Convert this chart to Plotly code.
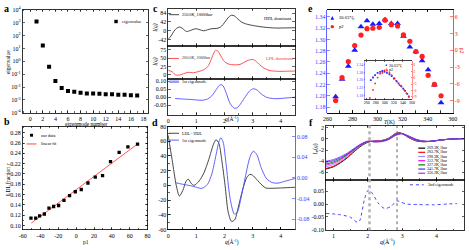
import plotly.graph_objects as go

W, H = 469, 250
SERIF = "Liberation Serif"


def px(x):
    return x / W


def py(y):
    return 1 - y / H


# ---------------- data ----------------
# panel a
eig_n = list(range(1, 18))
eig_val = [1250, 17, 0.38, 0.03, 0.0087, 0.0049, 0.0044, 0.0036, 0.0032, 0.0032,
           0.0030, 0.00275, 0.00275, 0.0025, 0.0025, 0.00234, 0.00224]
a_xticks = list(range(0, 19, 2))
a_yexp = list(range(-4, 5))

# panel b
b_p1 = [-50.7, -45.4, -41, -35.7, -30.5, -25.3, -19.7, -13.7, -7.4, -1, 5.7, 13.2,
        21.4, 29.6, 38.5, 48.2, 58, 68.8]
b_r = [0.1144, 0.1144, 0.119, 0.1225, 0.134, 0.137, 0.139, 0.149, 0.158, 0.1656,
       0.17, 0.1825, 0.194, 0.197, 0.224, 0.242, 0.2525, 0.258]
b_fit_x = [-50.3, 68.8]
b_fit_y = [0.105, 0.258]
b_xticks = [-60, -40, -20, 0, 20, 40, 60, 80]
b_yticks = [0.10, 0.12, 0.14, 0.16, 0.18, 0.20, 0.22, 0.24, 0.26, 0.28]

# panel c (top: 250K 10000bar, mid: 200K 2000bar)
c_q1 = [0, 0.1, 0.2, 0.3, 0.4, 0.5, 0.65, 0.8, 0.97, 1.1, 1.26, 1.4, 1.55, 1.7, 1.84,
        1.95, 2.07, 2.17, 2.25, 2.36, 2.48, 2.6, 2.75, 2.9, 3.1, 3.3, 3.5, 3.7, 3.9,
        4.1, 4.3, 4.5]
c_v1 = [-40, -25, -3, 12, 18, 12, -3, 2, 10, 6, 0, 5, 10, 11, 16, 30, 52, 68, 74,
        70, 55, 42, 33, 28, 23, 19, 16, 14, 13, 13.5, 14, 15]
c_q2 = [0, 0.15, 0.27, 0.4, 0.55, 0.7, 0.9, 1.1, 1.26, 1.4, 1.5, 1.6, 1.68, 1.76,
        1.85, 1.95, 2.05, 2.2, 2.4, 2.55, 2.7, 2.85, 3.0, 3.1, 3.25, 3.4, 3.58, 3.75,
        3.95, 4.2, 4.5]
c_v2 = [14, 8, -1, -1, 3, 7, 6, 10, 15, 24, 40, 62, 74, 72, 60, 45, 36, 31, 30, 31,
        38, 44, 46, 42, 30, 20, 13, 11, 10, 10.5, 11]
# 1st eigenmode (c bottom and d)
e1_q = [0.25, 0.5, 0.8, 1.0, 1.2, 1.4, 1.55, 1.7, 1.8, 1.87, 1.95, 2.05, 2.2, 2.35,
        2.45, 2.6, 2.75, 2.9, 3.02, 3.15, 3.3, 3.5, 3.7, 3.9, 4.1, 4.3, 4.5]
e1_v = [-0.009, -0.012, -0.015, -0.018, -0.02, -0.012, 0.008, 0.045, 0.07, 0.078,
        0.07, 0.03, -0.04, -0.07, -0.067, -0.035, 0.005, 0.04, 0.052, 0.045, 0.02,
        -0.002, -0.009, -0.01, -0.007, -0.004, -0.001]
# LDL - HDL (d)
d_q = [0, 0.14, 0.29, 0.4, 0.52, 0.63, 0.71, 0.83, 0.92, 1.1, 1.27, 1.44, 1.61, 1.7,
       1.8, 1.9, 2.02, 2.13, 2.25, 2.36, 2.48, 2.65, 2.79, 2.9, 3.0, 3.13, 3.34, 3.46,
       3.57, 4.03, 4.5]
d_v = [68, 35, -0.5, -14.5, -7, 5, 8.5, 2, 0, 6, 17, 35, 56, 62, 57, 35, 0, -36, -49,
       -47, -31, -5, 10.6, 15, 13.7, 8.4, 0, -3.5, -4, -3.5, -2.6]

# panel e
e_T = [266.6, 271.7, 276.7, 281.8, 286.8, 291.6, 296.3, 301.4, 306, 311, 316, 320.7,
       325.8, 330.6, 335.6, 340.4, 345.4, 350.7]
e_blue = [1.198, 1.2295, 1.2525, 1.281, 1.3227, 1.333, 1.327, 1.3285, 1.335, 1.3285,
          1.3285, 1.3055, 1.2865, 1.278, 1.262, 1.246, 1.219, 1.1875]
e_red = [-9.0, -4.87, -2.0, 0.88, 2.74, 3.9, 3.97, 4.14, 5.42, 4.6, 4.37, 2.8, 1.64,
         -0.22, -1.09, -4.47, -6.1, -8.13]
e_xticks = [260, 280, 300, 320, 340, 360]
e_lticks = [1.18, 1.20, 1.22, 1.24, 1.26, 1.28, 1.30, 1.32, 1.34]
e_rticks = [-9, -6, -3, 0, 3, 6]
# inset of e
in_T_b = [269, 273.8, 278.6, 284.1, 289.7, 294.5, 299.3, 304.8, 310.3, 315.2, 320,
          325.5, 330.3, 335.9, 340.7, 344.8, 349.7, 353.1]
in_blue = [1.258, 1.272, 1.284, 1.296, 1.301, 1.306, 1.302, 1.297, 1.289, 1.279, 1.267,
           1.255, 1.241, 1.228, 1.214, 1.202, 1.187, 1.174]
in_T_r = [266.9, 273.8, 278.6, 284.1, 289.7, 294.5, 299.3, 304.8, 310.3, 315.2, 322.1,
          326.9, 332.4, 337.2, 342.8, 347.6, 353.1]
in_red = [-9.54, -5.73, -2.68, 0.07, 1.9, 2.2, 3.42, 3.42, 2.2, 1.14, -0.39, -1.91,
          -3.44, -4.2, -5.73, -7.25, -9.08]

# panel f
f_q = [0.78, 1.0, 1.2, 1.4, 1.6, 1.8, 2.0, 2.2, 2.4, 2.6, 2.8, 2.9, 3.0, 3.2, 3.4,
       3.6, 3.8, 4.0, 4.2, 4.5, 4.8]
f_labels = ["269.3K,1bar", "283.7K,1bar", "298.3K,1bar", "312.7K,1bar",
            "327.2K,1bar", "341.7K,1bar", "356.2K,1bar"]
f_curves = [
    [-5.4, -5.0, -4.3, -3.4, -2.3, -1.3, -0.6, -0.35, -0.3, 0.1, 0.95, 1.1, 0.95, 0.2, -0.35, -0.5, -0.45, -0.3, -0.15, 0.0, 0.05],
    [-5.3, -4.9, -4.2, -3.3, -2.2, -1.2, -0.55, -0.4, -0.3, 0.05, 0.9, 1.05, 0.95, 0.25, -0.3, -0.5, -0.45, -0.3, -0.15, 0.0, 0.05],
    [-5.0, -4.6, -4.0, -3.1, -2.1, -1.15, -0.5, -0.4, -0.3, 0.05, 0.85, 1.0, 0.95, 0.3, -0.25, -0.45, -0.45, -0.3, -0.15, 0.0, 0.05],
    [-4.7, -4.35, -3.75, -2.9, -1.95, -1.05, -0.45, -0.45, -0.35, 0.0, 0.8, 0.95, 0.95, 0.35, -0.2, -0.45, -0.45, -0.3, -0.15, 0.0, 0.05],
    [-4.5, -4.15, -3.6, -2.8, -1.9, -1.0, -0.45, -0.5, -0.4, -0.05, 0.7, 0.9, 0.95, 0.4, -0.15, -0.4, -0.45, -0.3, -0.15, 0.0, 0.05],
    [-4.2, -3.9, -3.4, -2.7, -1.8, -0.95, -0.45, -0.5, -0.45, -0.1, 0.65, 0.85, 0.95, 0.45, -0.1, -0.4, -0.45, -0.3, -0.15, 0.0, 0.05],
    [-4.0, -3.7, -3.2, -2.55, -1.7, -0.9, -0.4, -0.55, -0.5, -0.15, 0.6, 0.8, 0.95, 0.5, -0.05, -0.35, -0.45, -0.3, -0.15, 0.0, 0.05],
]
f_colors = ["#000000", "#ff0000", "#8c8cff", "#ff00ff", "#008000", "#3c3cc8", "#9a33ff"]
e2_q = [0.78, 1.14, 1.48, 1.70, 1.77, 1.91, 2.01, 2.11, 2.30, 2.49, 2.68, 2.84, 2.97,
        3.11, 3.45, 3.93, 4.31, 4.6]
e2_v = [-0.037, -0.041, -0.051, -0.0725, -0.064, 0.023, 0.0546, 0.046, 0.004, -0.018,
        -0.009, 0.0126, 0.0076, 0.0, -0.002, -0.003, 0.0, 0.002]
f_vlines = [2.05, 2.85]

# ---------------- styling helpers ----------------
TF = dict(size=6, family=SERIF, color="black")
TINY = 4


def axis(**kw):
    base = dict(showline=True, linecolor="black", linewidth=0.8, mirror="allticks",
                ticks="inside", ticklen=2.5, tickwidth=0.6, tickcolor="black",
                tickfont=TF, showgrid=False, zeroline=False, fixedrange=True,
                ticklabeloverflow="allow")
    base.update(kw)
    return base


def fmt(vals, f):
    return [f.format(v) for v in vals]


BLUE = "#3c3cff"
RED = "#ff2020"

fig = go.Figure()

# a
fig.add_trace(go.Scatter(x=eig_n, y=eig_val, mode="markers", xaxis="x", yaxis="y",
                         marker=dict(symbol="square", size=4, color="black")))
# b
fig.add_trace(go.Scatter(x=b_fit_x, y=b_fit_y, mode="lines", xaxis="x2", yaxis="y2",
                         line=dict(color="#ff3030", width=0.8)))
fig.add_trace(go.Scatter(x=b_p1, y=b_r, mode="markers", xaxis="x2", yaxis="y2",
                         marker=dict(symbol="square", size=3.3, color="black")))
# c
fig.add_trace(go.Scatter(x=c_q1, y=c_v1, mode="lines", xaxis="x3", yaxis="y3",
                         line=dict(color="#333333", width=0.9, shape="spline", smoothing=0.8)))
fig.add_trace(go.Scatter(x=c_q2, y=c_v2, mode="lines", xaxis="x4", yaxis="y4",
                         line=dict(color="#ff4040", width=0.9, shape="spline", smoothing=0.8)))
fig.add_trace(go.Scatter(x=e1_q, y=e1_v, mode="lines", xaxis="x5", yaxis="y5",
                         line=dict(color="#5050ff", width=0.9, shape="spline", smoothing=0.8)))
# d
fig.add_trace(go.Scatter(x=d_q, y=d_v, mode="lines", xaxis="x6", yaxis="y6",
                         line=dict(color="#333333", width=0.9, shape="spline", smoothing=0.8)))
fig.add_trace(go.Scatter(x=e1_q, y=e1_v, mode="lines", xaxis="x6", yaxis="y7",
                         line=dict(color="#5050ff", width=0.9, shape="spline", smoothing=0.8)))
# e
fig.add_trace(go.Scatter(x=e_T, y=e_blue, mode="markers", xaxis="x8", yaxis="y8",
                         marker=dict(symbol="triangle-up", size=6, color="#1a1aff")))
fig.add_trace(go.Scatter(x=e_T, y=e_red, mode="markers", xaxis="x8", yaxis="y9",
                         marker=dict(symbol="circle", size=5.2, color=RED)))
# f
for lab, col, cur in zip(f_labels, f_colors, f_curves):
    fig.add_trace(go.Scatter(x=f_q, y=cur, mode="lines", xaxis="x10", yaxis="y10", name=lab,
                             line=dict(color=col, width=0.9, shape="spline", smoothing=0.8)))
fig.add_trace(go.Scatter(x=e2_q, y=e2_v, mode="lines", xaxis="x11", yaxis="y11",
                         line=dict(color="#3030ff", width=0.9, dash="dot", shape="spline",
                                   smoothing=0.6)))
# inset
fig.add_trace(go.Scatter(x=in_T_b, y=in_blue, mode="markers", xaxis="x12", yaxis="y12",
                         marker=dict(symbol="square", size=1.8, color="#3030ff")))
fig.add_trace(go.Scatter(x=in_T_r, y=in_red, mode="markers", xaxis="x12", yaxis="y13",
                         marker=dict(symbol="circle", size=1.8, color=RED)))

QX = dict(range=[0, 4.5], tickvals=[0, 1, 2, 3, 4], ticktext=["0", "1", "2", "3", "4"],
          minor=dict(ticks="inside", ticklen=1.5, dtick=0.5, tickcolor="black"))

layout = dict(
    width=W, height=H, margin=dict(l=0, r=0, t=0, b=0), showlegend=False,
    paper_bgcolor="white", plot_bgcolor="white",
    font=dict(family=SERIF, size=6, color="black"),
    # a
    xaxis=axis(domain=[px(19), px(147)], anchor="y", range=[-1.2, 18.8],
               tickvals=a_xticks, ticktext=[str(v) for v in a_xticks],
               minor=dict(ticks="inside", ticklen=1.5, dtick=1, tickcolor="black")),
    yaxis=axis(domain=[py(112), py(6)], anchor="x", type="log", range=[-4, 4],
               tickvals=[10.0 ** e for e in a_yexp],
               ticktext=["10<sup>%d</sup>" % e for e in a_yexp]),
    # b
    xaxis2=axis(domain=[px(19), px(146)], anchor="y2", range=[-60, 80],
                tickvals=b_xticks, ticktext=fmt(b_xticks, "{:d}"),
                minor=dict(ticks="inside", ticklen=1.5, dtick=10, tickcolor="black")),
    yaxis2=axis(domain=[py(232), py(126)], anchor="x2", range=[0.0925, 0.292],
                tickvals=b_yticks, ticktext=fmt(b_yticks, "{:.2f}"),
                minor=dict(ticks="inside", ticklen=1.5, dtick=0.01, tickcolor="black")),
    # c
    xaxis3=axis(domain=[px(167), px(296)], anchor="y3", showticklabels=False, **QX),
    yaxis3=axis(domain=[py(43), py(5)], anchor="x3", range=[-71, 104],
                tickvals=[-42, 0, 42, 84], ticktext=["-42", "0", "42", "84"]),
    xaxis4=axis(domain=[px(167), px(296)], anchor="y4", showticklabels=False, **QX),
    yaxis4=axis(domain=[py(77), py(43)], anchor="x4", range=[-12.6, 87.6],
                tickvals=[0, 25, 50, 75], ticktext=["0", "25", "50", "75"]),
    xaxis5=axis(domain=[px(167), px(296)], anchor="y5", **QX),
    yaxis5=axis(domain=[py(114), py(77)], anchor="x5", range=[-0.111, 0.114],
                tickvals=[-0.05, 0, 0.05, 0.10], ticktext=["-0.05", "0.00", "0.05", "0.10"]),
    # d
    xaxis6=axis(domain=[px(167), px(296)], anchor="y6", **QX),
    yaxis6=axis(domain=[py(232), py(126)], anchor="x6", range=[-60, 80], mirror=False,
                tickvals=list(range(-60, 81, 20)),
                ticktext=fmt(list(range(-60, 81, 20)), "{:d}"),
                minor=dict(ticks="inside", ticklen=1.5, dtick=10, tickcolor="black")),
    yaxis7=axis(anchor="x6", overlaying="y6", side="right", range=[-0.1, 0.1], mirror=False,
                linecolor=BLUE, tickcolor=BLUE, tickfont=dict(size=6, family=SERIF, color=BLUE),
                tickvals=[-0.08, -0.04, 0, 0.04, 0.08],
                ticktext=["-0.08", "-0.04", "0.00", "0.04", "0.08"]),
    # e
    xaxis8=axis(domain=[px(329), px(456.5)], anchor="y8", range=[260, 360],
                tickvals=e_xticks, ticktext=[str(v) for v in e_xticks],
                minor=dict(ticks="inside", ticklen=1.5, dtick=10, tickcolor="black")),
    yaxis8=axis(domain=[py(112), py(6)], anchor="x8", range=[1.1696, 1.3526], mirror=False,
                linecolor=BLUE, tickcolor=BLUE, tickfont=dict(size=6, family=SERIF, color=BLUE),
                tickvals=e_lticks, ticktext=fmt(e_lticks, "{:.2f}")),
    yaxis9=axis(anchor="x8", overlaying="y8", side="right", range=[-11.2, 7.27], mirror=False,
                linecolor=RED, tickcolor=RED, tickfont=dict(size=6, family=SERIF, color=RED),
                tickvals=e_rticks, ticktext=fmt(e_rticks, "{:d}")),
    # f
    xaxis10=axis(domain=[px(327.5), px(468)], anchor="y10", range=[0.78, 4.8],
                 showticklabels=False, tickvals=[1, 2, 3, 4],
                 minor=dict(ticks="inside", ticklen=1.5, dtick=0.5, tickcolor="black")),
    yaxis10=axis(domain=[py(180.7), py(125)], anchor="x10", range=[-7.3, 2.4],
                 tickvals=[-6, -4, -2, 0, 2], ticktext=["-6", "-4", "-2", "0", "2"]),
    xaxis11=axis(domain=[px(327.5), px(468)], anchor="y11", range=[0.78, 4.8],
                 tickvals=[1, 2, 3, 4], ticktext=["1", "2", "3", "4"],
                 minor=dict(ticks="inside", ticklen=1.5, dtick=0.5, tickcolor="black")),
    yaxis11=axis(domain=[py(232.7), py(180.7)], anchor="x11", range=[-0.103, 0.096],
                 tickvals=[-0.10, -0.05, 0, 0.05], ticktext=["-0.10", "-0.05", "0.00", "0.05"]),
    # inset
    xaxis12=axis(domain=[px(366.7), px(415)], anchor="y12", range=[255, 360],
                 tickvals=[260, 280, 300, 320, 340, 360], ticktext=["260", "280", "300", "320", "340", "360"],
                 tickfont=dict(size=TINY, family=SERIF), ticklen=1, linewidth=0.5),
    yaxis12=axis(domain=[py(97.7), py(58.3)], anchor="x12", range=[1.16, 1.36], mirror=False,
                 tickvals=[1.18, 1.22, 1.26, 1.30, 1.34], ticktext=["1.18", "1.22", "1.26", "1.30", "1.34"],
                 linecolor=BLUE, tickcolor=BLUE, ticklen=1, linewidth=0.5,
                 tickfont=dict(size=TINY, family=SERIF, color=BLUE)),
    yaxis13=axis(anchor="x12", overlaying="y12", side="right", range=[-10, 8], mirror=False,
                 tickvals=[-9, -6, -3, 0, 3, 6], ticktext=["-9", "-6", "-3", "0", "3", "6"],
                 linecolor=RED, tickcolor=RED, ticklen=1, linewidth=0.5,
                 tickfont=dict(size=TINY, family=SERIF, color=RED)),
)
fig.update_layout(**layout)

ann = []
shapes = []


def text(x, y, s, size=5.5, color="black", angle=0, xanchor="center", bold=False, italic=False):
    if bold:
        s = "<b>%s</b>" % s
    if italic:
        s = "<i>%s</i>" % s
    ann.append(dict(x=px(x), y=py(y), xref="paper", yref="paper", text=s, showarrow=False,
                    textangle=angle, xanchor=xanchor, yanchor="middle", borderpad=0,
                    font=dict(size=size, family=SERIF, color=color)))


def hline(x0, x1, y, color, width=0.9, dash="solid"):
    shapes.append(dict(type="line", xref="paper", yref="paper", x0=px(x0), x1=px(x1),
                       y0=py(y), y1=py(y), line=dict(color=color, width=width, dash=dash)))


def square(xc, yc, s, color):
    shapes.append(dict(type="rect", xref="paper", yref="paper", x0=px(xc - s / 2),
                       x1=px(xc + s / 2), y0=py(yc + s / 2), y1=py(yc - s / 2),
                       fillcolor=color, line=dict(width=0)))


def circle(xc, yc, s, color):
    shapes.append(dict(type="circle", xref="paper", yref="paper", x0=px(xc - s / 2),
                       x1=px(xc + s / 2), y0=py(yc + s / 2), y1=py(yc - s / 2),
                       fillcolor=color, line=dict(width=0)))


def triangle(xc, yc, s, color):
    p = "M %f %f L %f %f L %f %f Z" % (px(xc - s / 2), py(yc + s / 2), px(xc + s / 2),
                                       py(yc + s / 2), px(xc), py(yc - s / 2))
    shapes.append(dict(type="path", xref="paper", yref="paper", path=p, fillcolor=color,
                       line=dict(width=0)))


# panel letters
for lx, ly, l in [(3, 5, "a"), (3, 121, "b"), (154, 5, "c"), (154, 122, "d"),
                  (312, 5, "e"), (312, 122, "f")]:
    text(lx, ly, l, size=10, bold=True)

# axis titles
text(83, 123, "eigenmode number")
text(4, 60, "eigenvalue", angle=-90)
text(83, 244.5, "p1")
text(4, 180, "LDL fraction <i>r</i>", angle=-90)
text(154, 25, "I(q)", angle=-90, italic=True)
text(154, 60, "I(q)", angle=-90, italic=True)
text(232, 118, "<i>q</i>(Å<sup>-1</sup>)")
text(232, 244.5, "<i>q</i>(Å<sup>-1</sup>)")
text(392, 122, "<i>T</i>(K)")
text(466, 48, "p2", angle=90, color=RED, size=6)
text(317, 150, "<i>I<sub>m</sub></i>(<i>q</i>)", angle=-90)
text(390, 244.5, "<i>q</i>(Å<sup>-1</sup>)", size=6)

# legends
square(114, 18, 3.5, "black")
text(119, 18, "eigenvalue", size=4.5, xanchor="left")
square(28, 135, 3, "black")
text(37, 135, "our data", size=4.5, xanchor="left")
hline(23, 33, 144, "#ff3030")
text(37, 144, "linear fit", size=4.5, xanchor="left")

hline(168, 178, 11, "#333333")
text(180, 11, "250.0K, 10000bar", size=4.2, xanchor="left")
text(279, 15, "HDL dominant", size=4.5)
hline(168, 178, 56, "#ff4040")
text(180, 56, "200.0K, 2000bar", size=4.2, xanchor="left", color="#333333")
text(280, 56, "LDL dominant", size=4.5, color="#ff3030")
hline(168, 178, 80, "#9a9aff", width=2.5)
text(180, 80, "1st eigenmode", size=4.2, xanchor="left")

hline(168, 178, 133, "#333333")
text(180, 133, "LDL - HDL", size=4.2, xanchor="left")
hline(168, 178, 140, "#5050ff")
text(180, 140, "1st eigenmode", size=4.2, xanchor="left")

triangle(334, 14.3, 3.8, "#1a1aff")
text(340, 14.3, "20.63*<i>ζ</i><sub>r</sub>", size=4.5, xanchor="left")
circle(334, 23.3, 3.5, RED)
text(340, 23.3, "p2", size=4.5, xanchor="left")

# inset legend
square(389, 63, 1.5, "#3030ff")
text(391, 63, "20.63*ζ", size=TINY, xanchor="left")
circle(389, 67, 1.5, RED)
text(391, 67, "p2", size=TINY, xanchor="left")

for i, (lab, col) in enumerate(zip(f_labels, f_colors)):
    y = 148.3 + i * 4.3
    hline(421.5, 428.5, y, col, width=1.2)
    text(429.5, y, lab, size=TINY, xanchor="left")
hline(413, 427, 186, "#3030ff", dash="dot")
text(430, 186, "2nd eigenmode", size=4.2, xanchor="left")

# vertical reference lines in f
for i, q in enumerate(f_vlines):
    shapes.append(dict(type="line", xref="x10", yref="paper", x0=q, x1=q,
                       y0=py(232.7), y1=py(125),
                       line=dict(color="#b4b4b4" if i == 0 else "#555555",
                                 width=2.6 if i == 0 else 0.9, dash="dot")))

fig.update_layout(annotations=ann, shapes=shapes)
fig.write_html("out.html", config={"displayModeBar": False, "staticPlot": True},
               post_script="document.body.style.margin='0';document.body.style.overflow='hidden';")
